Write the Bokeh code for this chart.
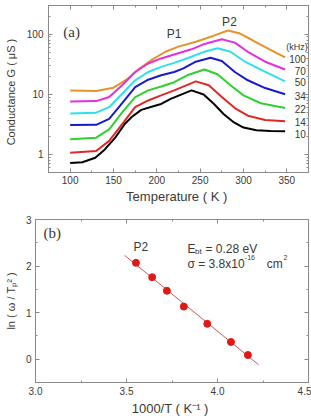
from bokeh.plotting import figure
from bokeh.layouts import column
from bokeh.models import (FixedTicker, LinearAxis, LogAxis)
from bokeh.core.properties import value
from bokeh.embed import file_html
from bokeh.resources import INLINE

# ---------------- data: panel (a) ----------------
freq_labels = ["100", "70", "50", "34", "22", "14", "10"]
freq_label_g = [38.5, 24.2, 15.8, 9.2, 5.76, 3.49, 2.19]
colors = ["#e8922a", "#e030e0", "#30e0e8", "#1a1ac8", "#30d030", "#e02828", "#000000"]

T_100 = [100, 130, 150, 165, 180, 195, 210, 225, 245, 265, 282, 295, 310, 330, 348]
G_100 = [11.6, 11.3, 12.9, 17.5, 26.8, 38, 51, 62, 75, 93.5, 115, 104, 80, 56, 41]

T_70 = [100, 130, 145, 160, 175, 190, 205, 220, 240, 255, 275, 290, 305, 325, 348]
G_70 = [7.6, 7.7, 9.0, 14.1, 23.5, 32.5, 39.5, 46, 56, 68.8, 82.4, 72.4, 51, 34.8, 25.8]

T_50 = [100, 130, 145, 160, 175, 190, 205, 220, 240, 255, 270, 285, 300, 320, 348]
G_50 = [4.8, 4.95, 6.1, 10.2, 17.1, 23.5, 28.6, 33.3, 42.2, 51.2, 58.2, 51, 36.1, 25.8, 16.4]

T_34 = [100, 130, 145, 160, 175, 190, 205, 220, 230, 245, 262, 275, 290, 305, 325, 348]
G_34 = [3.07, 3.1, 3.9, 7.1, 13.2, 17.5, 20.7, 23.5, 26.8, 34.8, 40.5, 35.7, 23.5, 17.1, 12.7, 10]

T_22 = [100, 130, 145, 160, 175, 190, 205, 220, 235, 255, 270, 285, 300, 320, 348]
G_22 = [1.79, 1.9, 2.6, 5.0, 9.0, 11.6, 13.5, 15.9, 20.7, 25.8, 21.5, 14.1, 9.6, 7.1, 5.9]

T_14 = [100, 130, 145, 160, 175, 190, 205, 220, 245, 260, 275, 290, 305, 325, 348]
G_14 = [1.07, 1.14, 1.68, 3.2, 6.1, 7.9, 9.6, 11.6, 16.4, 14.1, 9.0, 5.9, 4.4, 3.73, 3.55]

T_10 = [100, 114, 129, 140, 152, 163, 171, 182, 194, 205, 216, 228, 240, 254, 266, 277, 289, 300, 315, 331, 348]
G_10 = [0.72, 0.74, 0.88, 1.21, 1.9, 3.2, 4.2, 5.5, 6.2, 6.9, 8.4, 9.9, 11.6, 9.9, 6.9, 4.7, 3.4, 2.8, 2.53, 2.46, 2.43]

series_T = [T_100, T_70, T_50, T_34, T_22, T_14, T_10]
series_G = [G_100, G_70, G_50, G_34, G_22, G_14, G_10]

# ---------------- data: panel (b) ----------------
inv_T = [3.552, 3.641, 3.722, 3.815, 3.944, 4.074, 4.167]
ln_wT2 = [2.07, 1.76, 1.47, 1.13, 0.76, 0.37, 0.09]
fit_x = [3.49, 4.226]
fit_y = [2.23, -0.12]

FONT = "Liberation Sans"
SERIF = "Liberation Serif"
GRAY = "#8a8a8a"
TXT = "#3a3a3a"


def style_axis(ax, labels=True):
    ax.axis_line_color = GRAY
    ax.major_tick_line_color = GRAY
    ax.minor_tick_line_color = GRAY
    ax.major_tick_in = 4
    ax.major_tick_out = 0
    ax.minor_tick_in = 2
    ax.minor_tick_out = 0
    ax.major_label_text_font = FONT
    ax.major_label_text_color = TXT
    ax.axis_label_text_font = FONT
    ax.axis_label_text_color = TXT
    ax.axis_label_text_font_style = "normal"
    if labels:
        ax.major_label_text_font_size = "10px"
        ax.major_label_standoff = 4
    else:
        ax.major_label_text_font_size = "1px"
        ax.major_label_text_alpha = 0
        ax.major_label_standoff = 0


# ---------------- panel (a) ----------------
p1 = figure(width=311, height=208, y_axis_type="log", x_range=(75, 375),
            y_range=(0.5, 300), output_backend="svg", toolbar_location=None,
            min_border_left=48, min_border_right=3, min_border_top=5,
            min_border_bottom=36)
p1.frame_align = False
p1.grid.visible = False
p1.outline_line_color = GRAY

xt = FixedTicker(ticks=[100, 150, 200, 250, 300, 350],
                 minor_ticks=[75, 125, 175, 225, 275, 325, 375])
minor_log = [0.5, 0.6, 0.7, 0.8, 0.9] + [i for i in range(2, 10)] + \
            [i * 10 for i in range(2, 10)] + [200, 300]
yt = FixedTicker(ticks=[1, 10, 100], minor_ticks=minor_log)

p1.xaxis.ticker = xt
p1.yaxis.ticker = yt
p1.yaxis.major_label_overrides = {1: "1", 10: "10", 100: "100"}
for ax in p1.xaxis + p1.yaxis:
    style_axis(ax)
p1.yaxis.major_label_standoff = 5
p1.xaxis.major_label_standoff = 3
p1.xaxis.axis_label = "Temperature  ( K )"
p1.xaxis.axis_label_text_font_size = "13px"
p1.xaxis.axis_label_standoff = 2
p1.yaxis.axis_label = "Conductance  G  ( \u03bcS )"
p1.yaxis.axis_label_text_font_size = "11px"
p1.yaxis.axis_label_standoff = 7

ax_r = LogAxis(ticker=yt)
style_axis(ax_r, labels=False)
p1.add_layout(ax_r, "right")
ax_t = LinearAxis(ticker=xt)
style_axis(ax_t, labels=False)
p1.add_layout(ax_t, "above")

for T, G, c in zip(series_T, series_G, colors):
    p1.line(T, G, line_color=c, line_width=2)

p1.text(x=[372] * len(freq_labels), y=freq_label_g, text=freq_labels,
        text_align="right", text_baseline="middle", text_font=value(FONT),
        text_font_size="10px", text_color=TXT)
p1.text(x=[374], y=[61], text=["(kHz)"], text_align="right",
        text_baseline="middle", text_font=value(FONT), text_font_size="9px",
        text_color=TXT)
p1.text(x=[219.9, 283.8], y=[101, 161], text=["P1", "P2"], text_align="center",
        text_baseline="middle", text_font=value(FONT), text_font_size="12px",
        text_color=TXT)
p1.text(x=[92], y=[109], text=["(a)"], text_align="left", text_baseline="middle",
        text_font=value(SERIF), text_font_size="15px", text_color=TXT)

# ---------------- panel (b) ----------------
p2 = figure(width=311, height=210, x_range=(3.0, 4.5), y_range=(-0.5, 3),
            output_backend="svg", toolbar_location=None,
            min_border_left=35, min_border_right=3, min_border_top=11,
            min_border_bottom=36)
p2.frame_align = False
p2.grid.visible = False
p2.outline_line_color = GRAY

xt2 = FixedTicker(ticks=[3.0, 3.5, 4.0, 4.5], minor_ticks=[3.25, 3.75, 4.25])
yt2 = FixedTicker(ticks=[0, 1, 2, 3], minor_ticks=[-0.5, 0.5, 1.5, 2.5])
p2.xaxis.ticker = xt2
p2.yaxis.ticker = yt2
p2.xaxis.major_label_overrides = {3.0: "3.0", 3.5: "3.5", 4.0: "4.0", 4.5: "4.5"}
for ax in p2.xaxis + p2.yaxis:
    style_axis(ax)
p2.xaxis.axis_label = "1000/T  ( K\u207b\u00b9 )"
p2.xaxis.axis_label_text_font_size = "13px"
p2.xaxis.axis_label_standoff = 3
p2.yaxis.axis_label = "ln ( \u03c9 / T\u209a\u00b2 )"
p2.yaxis.axis_label_text_font_size = "11px"
p2.yaxis.axis_label_standoff = 6

ax_r2 = LinearAxis(ticker=yt2)
style_axis(ax_r2, labels=False)
p2.add_layout(ax_r2, "right")
ax_t2 = LinearAxis(ticker=xt2)
style_axis(ax_t2, labels=False)
p2.add_layout(ax_t2, "above")

p2.line(fit_x, fit_y, line_color="#c85a5a", line_width=1)
p2.scatter(inv_T, ln_wT2, size=7, fill_color="#e01818", line_color="#e01818")

p2.text(x=[3.044], y=[2.70], text=["(b)"], text_align="left", text_baseline="middle",
        text_font=value(SERIF), text_font_size="15px", text_color=TXT)
p2.text(x=[3.538], y=[2.42], text=["P2"], text_align="left", text_baseline="middle",
        text_font=value(FONT), text_font_size="12px", text_color=TXT)
# E_bt line
p2.text(x=[3.835], y=[2.375], text=["E"], text_align="left", text_baseline="middle",
        text_font=value(FONT), text_font_size="12px", text_color=TXT)
p2.text(x=[3.876], y=[2.31], text=["bt"], text_align="left", text_baseline="middle",
        text_font=value(FONT), text_font_size="8px", text_color=TXT)
p2.text(x=[3.934], y=[2.375], text=["= 0.28 eV"], text_align="left",
        text_baseline="middle", text_font=value(FONT), text_font_size="12px",
        text_color=TXT)
# sigma line
p2.text(x=[3.835], y=[2.052], text=["\u03c3 = 3.8x10"], text_align="left",
        text_baseline="middle", text_font=value(FONT), text_font_size="12px",
        text_color=TXT)
p2.text(x=[4.150], y=[2.18], text=["-16"], text_align="left", text_baseline="middle",
        text_font=value(FONT), text_font_size="7px", text_color=TXT)
p2.text(x=[4.270], y=[2.052], text=["cm"], text_align="left", text_baseline="middle",
        text_font=value(FONT), text_font_size="12px", text_color=TXT)
p2.text(x=[4.362], y=[2.18], text=["2"], text_align="left", text_baseline="middle",
        text_font=value(FONT), text_font_size="7px", text_color=TXT)

layout = column(p1, p2, spacing=0)
open("out.html", "w").write(file_html(layout, INLINE))
